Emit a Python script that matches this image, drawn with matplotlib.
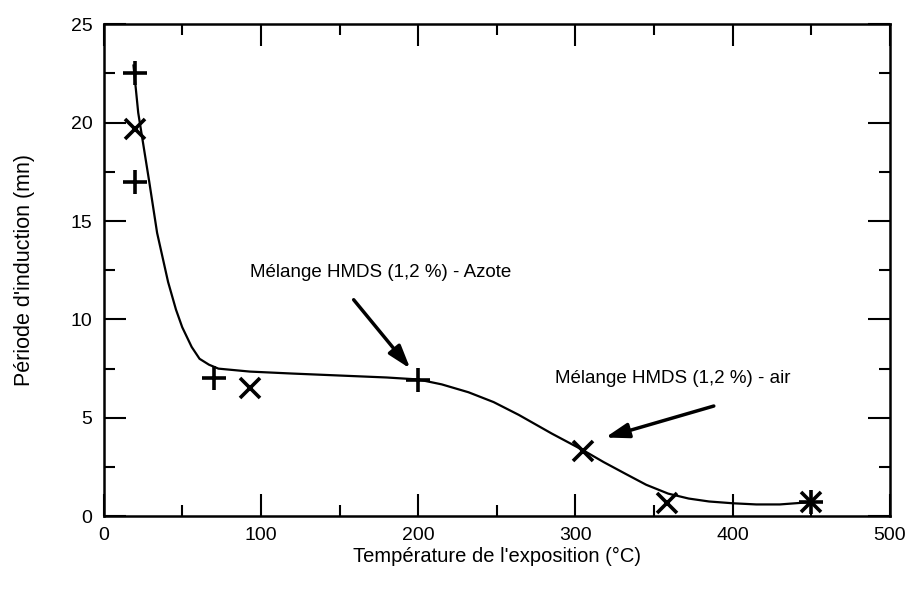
import numpy as np
import matplotlib
matplotlib.use('Agg')
import matplotlib.pyplot as plt
from matplotlib.ticker import MultipleLocator

# measured points
plus_x = [20, 20, 70, 200, 450]
plus_y = [22.5, 17.0, 7.0, 6.9, 0.7]
cross_x = [20, 93, 305, 358, 450]
cross_y = [19.7, 6.5, 3.3, 0.65, 0.7]

# hand-drawn trend curve
curve_x = [19, 22, 24, 29, 34, 41, 46, 50, 56, 61, 67, 73, 93, 120, 150,
           180, 200, 215, 232, 248, 264, 285, 305, 318, 332, 345, 359, 372,
           385, 400, 415, 430, 450]
curve_y = [22.9, 20.5, 19.5, 17.0, 14.4, 11.9, 10.5, 9.6, 8.6, 8.0, 7.7, 7.5,
           7.35, 7.25, 7.15, 7.05, 6.95, 6.7, 6.3, 5.8, 5.15, 4.2, 3.35, 2.75,
           2.15, 1.6, 1.15, 0.9, 0.75, 0.66, 0.6, 0.6, 0.72]

x_ticks = [0, 100, 200, 300, 400, 500]
y_ticks = [0, 5, 10, 15, 20, 25]

plt.rcParams['font.family'] = ['Liberation Sans', 'DejaVu Sans']

fig = plt.figure(figsize=(9.09, 5.9), dpi=100)
ax = fig.add_axes([0.114, 0.125, 0.865, 0.834])

ax.plot(curve_x, curve_y, color='black', lw=1.6, zorder=2)
ax.plot(plus_x, plus_y, linestyle='none', marker='+', ms=17, mew=2.6,
        color='black', zorder=3)
ax.plot(cross_x, cross_y, linestyle='none', marker='x', ms=15, mew=2.6,
        color='black', zorder=3)

arrow = dict(arrowstyle='-|>,head_length=1.4,head_width=0.45',
             lw=2.5, color='black', shrinkA=0, shrinkB=0)
ax.annotate('', xy=(195, 7.5), xytext=(159, 11.0), arrowprops=arrow)
ax.annotate('', xy=(319, 4.0), xytext=(388, 5.6), arrowprops=arrow)
ax.text(93, 12.4, 'Mélange HMDS (1,2 %) - Azote', fontsize=13.5,
        ha='left', va='center')
ax.text(287, 7.0, 'Mélange HMDS (1,2 %) - air', fontsize=13.5,
        ha='left', va='center')

ax.set_xlim(0, 500)
ax.set_ylim(0, 25)
ax.set_xticks(x_ticks)
ax.set_yticks(y_ticks)
ax.xaxis.set_minor_locator(MultipleLocator(50))
ax.yaxis.set_minor_locator(MultipleLocator(2.5))
ax.tick_params(which='both', direction='in', top=True, right=True,
               labelsize=14, width=1.5, pad=8)
ax.tick_params(which='major', length=16)
ax.tick_params(which='minor', length=8)
for s in ax.spines.values():
    s.set_linewidth(1.8)

ax.set_xlabel("Température de l'exposition (°C)", fontsize=14.5, labelpad=2)
ax.set_ylabel("Période d'induction (mn)", fontsize=15.5, labelpad=26)

fig.savefig('out.png', dpi=100)
